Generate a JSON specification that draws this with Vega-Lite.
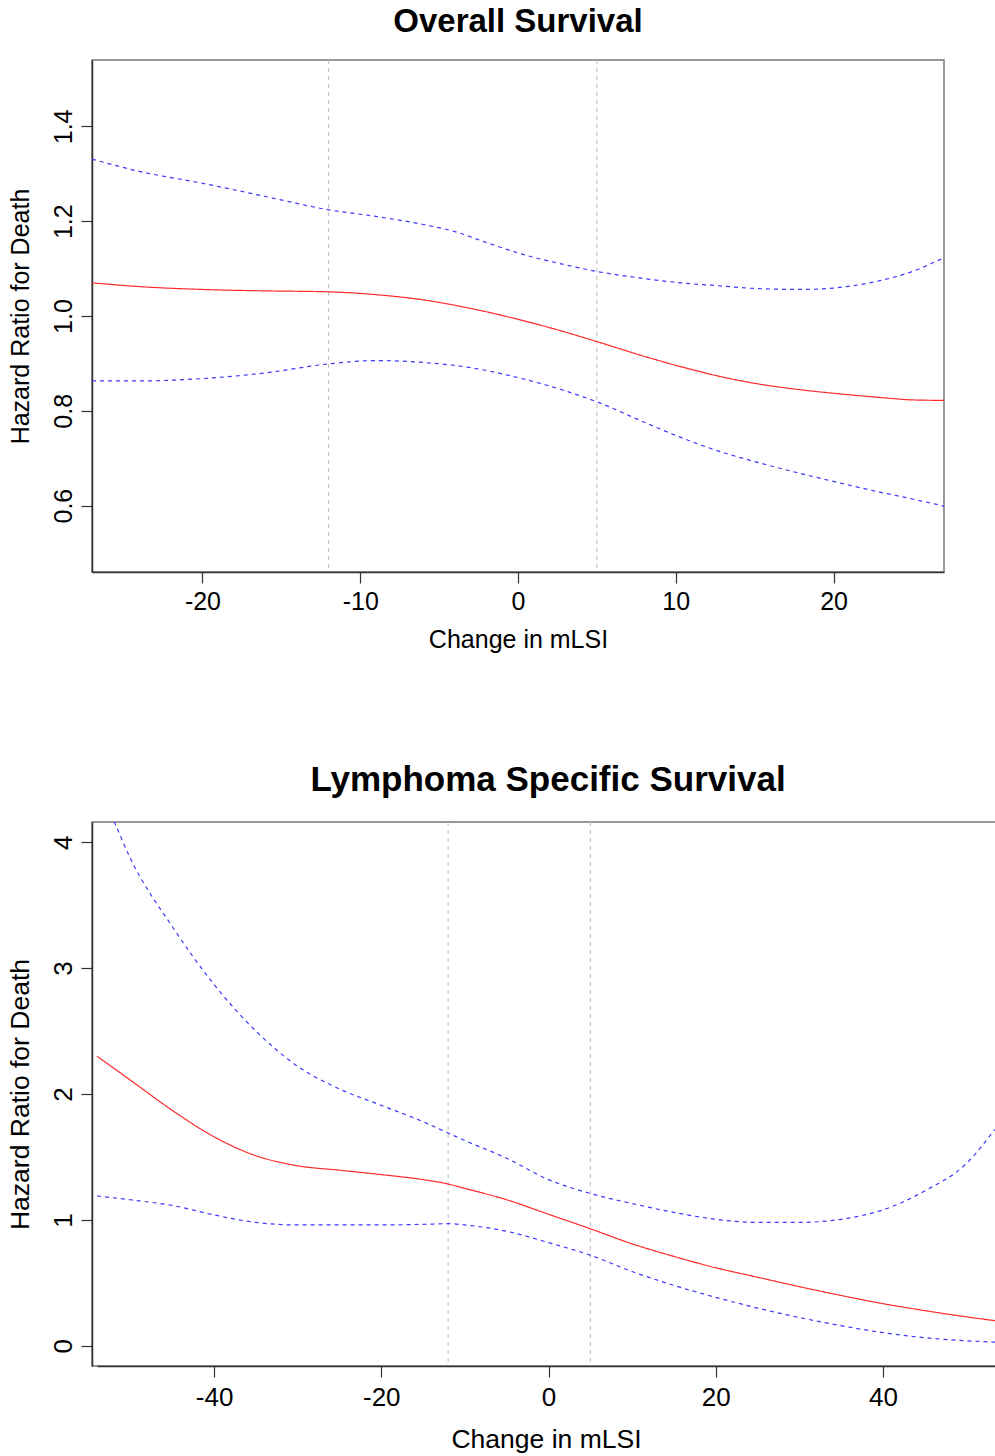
{
  "$schema": "https://vega.github.io/schema/vega-lite/v6.json",
  "background": "white",
  "padding": {"left": 6, "top": 4, "right": 0, "bottom": 0},
  "config": {
    "font": "Liberation Sans",
    "view": {"stroke": "#777777", "strokeWidth": 1.5},
    "axis": {
      "domainColor": "#333333", "domainWidth": 1.5, "tickColor": "#333333", "tickWidth": 1.2, "tickSize": 11,
      "labelColor": "black", "titleColor": "black", "grid": false,
      "labelFont": "Liberation Sans", "titleFont": "Liberation Sans", "titleFontWeight": "normal",
      "labelFlush": false, "labelOverlap": false
    }
  },
  "datasets": {
    "os": [
      {"x": -27, "s": "hr", "v": 1.070}, {"x": -24, "s": "hr", "v": 1.062}, {"x": -20, "s": "hr", "v": 1.056}, {"x": -16, "s": "hr", "v": 1.053},
      {"x": -12, "s": "hr", "v": 1.051}, {"x": -9, "s": "hr", "v": 1.045}, {"x": -6, "s": "hr", "v": 1.034}, {"x": -3, "s": "hr", "v": 1.016},
      {"x": 0, "s": "hr", "v": 0.993}, {"x": 3, "s": "hr", "v": 0.966}, {"x": 5, "s": "hr", "v": 0.946}, {"x": 8, "s": "hr", "v": 0.915},
      {"x": 10, "s": "hr", "v": 0.896}, {"x": 13, "s": "hr", "v": 0.871}, {"x": 15, "s": "hr", "v": 0.858}, {"x": 18, "s": "hr", "v": 0.844},
      {"x": 20, "s": "hr", "v": 0.837}, {"x": 23, "s": "hr", "v": 0.828}, {"x": 25, "s": "hr", "v": 0.823}, {"x": 27, "s": "hr", "v": 0.822},
      {"x": -27, "s": "up", "v": 1.331}, {"x": -24, "s": "up", "v": 1.305}, {"x": -20, "s": "up", "v": 1.280}, {"x": -16, "s": "up", "v": 1.252},
      {"x": -12, "s": "up", "v": 1.224}, {"x": -9, "s": "up", "v": 1.210}, {"x": -6, "s": "up", "v": 1.193}, {"x": -4, "s": "up", "v": 1.178},
      {"x": -2, "s": "up", "v": 1.155}, {"x": 0, "s": "up", "v": 1.133}, {"x": 3, "s": "up", "v": 1.108}, {"x": 5, "s": "up", "v": 1.094},
      {"x": 8, "s": "up", "v": 1.079}, {"x": 10, "s": "up", "v": 1.071}, {"x": 13, "s": "up", "v": 1.063}, {"x": 15, "s": "up", "v": 1.058},
      {"x": 18, "s": "up", "v": 1.056}, {"x": 20, "s": "up", "v": 1.059}, {"x": 23, "s": "up", "v": 1.075}, {"x": 25, "s": "up", "v": 1.094},
      {"x": 27, "s": "up", "v": 1.123},
      {"x": -27, "s": "lo", "v": 0.863}, {"x": -24, "s": "lo", "v": 0.863}, {"x": -20, "s": "lo", "v": 0.868}, {"x": -16, "s": "lo", "v": 0.880},
      {"x": -12, "s": "lo", "v": 0.899}, {"x": -9, "s": "lo", "v": 0.906}, {"x": -6, "s": "lo", "v": 0.902}, {"x": -3, "s": "lo", "v": 0.891},
      {"x": 0, "s": "lo", "v": 0.870}, {"x": 3, "s": "lo", "v": 0.842}, {"x": 5, "s": "lo", "v": 0.819}, {"x": 8, "s": "lo", "v": 0.776},
      {"x": 10, "s": "lo", "v": 0.748}, {"x": 13, "s": "lo", "v": 0.712}, {"x": 15, "s": "lo", "v": 0.693}, {"x": 18, "s": "lo", "v": 0.667},
      {"x": 20, "s": "lo", "v": 0.651}, {"x": 23, "s": "lo", "v": 0.628}, {"x": 25, "s": "lo", "v": 0.614}, {"x": 27, "s": "lo", "v": 0.599}
    ],
    "lss": [
      {"x": -54, "s": "hr", "v": 2.30}, {"x": -50, "s": "hr", "v": 2.11}, {"x": -45, "s": "hr", "v": 1.87}, {"x": -40, "s": "hr", "v": 1.66},
      {"x": -35, "s": "hr", "v": 1.51}, {"x": -30, "s": "hr", "v": 1.43}, {"x": -25, "s": "hr", "v": 1.395}, {"x": -20, "s": "hr", "v": 1.36},
      {"x": -15, "s": "hr", "v": 1.32}, {"x": -12, "s": "hr", "v": 1.285}, {"x": -10, "s": "hr", "v": 1.25}, {"x": -5, "s": "hr", "v": 1.16},
      {"x": 0, "s": "hr", "v": 1.045}, {"x": 5, "s": "hr", "v": 0.93}, {"x": 10, "s": "hr", "v": 0.81}, {"x": 15, "s": "hr", "v": 0.71},
      {"x": 20, "s": "hr", "v": 0.62}, {"x": 25, "s": "hr", "v": 0.545}, {"x": 30, "s": "hr", "v": 0.47}, {"x": 35, "s": "hr", "v": 0.40},
      {"x": 40, "s": "hr", "v": 0.335}, {"x": 45, "s": "hr", "v": 0.28}, {"x": 50, "s": "hr", "v": 0.23}, {"x": 53.4, "s": "hr", "v": 0.20},
      {"x": -54, "s": "up", "v": 4.45}, {"x": -52, "s": "up", "v": 4.17}, {"x": -50, "s": "up", "v": 3.87}, {"x": -45, "s": "up", "v": 3.33},
      {"x": -40, "s": "up", "v": 2.87}, {"x": -35, "s": "up", "v": 2.50}, {"x": -30, "s": "up", "v": 2.22}, {"x": -25, "s": "up", "v": 2.04},
      {"x": -20, "s": "up", "v": 1.91}, {"x": -15, "s": "up", "v": 1.78}, {"x": -12, "s": "up", "v": 1.69}, {"x": -10, "s": "up", "v": 1.63},
      {"x": -5, "s": "up", "v": 1.49}, {"x": 0, "s": "up", "v": 1.32}, {"x": 5, "s": "up", "v": 1.21}, {"x": 10, "s": "up", "v": 1.13},
      {"x": 15, "s": "up", "v": 1.06}, {"x": 20, "s": "up", "v": 1.005}, {"x": 25, "s": "up", "v": 0.98}, {"x": 30, "s": "up", "v": 0.98},
      {"x": 35, "s": "up", "v": 1.005}, {"x": 40, "s": "up", "v": 1.08}, {"x": 45, "s": "up", "v": 1.23}, {"x": 50, "s": "up", "v": 1.45},
      {"x": 53.4, "s": "up", "v": 1.72},
      {"x": -54, "s": "lo", "v": 1.19}, {"x": -50, "s": "lo", "v": 1.16}, {"x": -45, "s": "lo", "v": 1.115}, {"x": -40, "s": "lo", "v": 1.04},
      {"x": -35, "s": "lo", "v": 0.98}, {"x": -30, "s": "lo", "v": 0.96}, {"x": -25, "s": "lo", "v": 0.96}, {"x": -20, "s": "lo", "v": 0.96},
      {"x": -15, "s": "lo", "v": 0.965}, {"x": -12, "s": "lo", "v": 0.97}, {"x": -10, "s": "lo", "v": 0.96}, {"x": -5, "s": "lo", "v": 0.91},
      {"x": 0, "s": "lo", "v": 0.82}, {"x": 5, "s": "lo", "v": 0.72}, {"x": 10, "s": "lo", "v": 0.59}, {"x": 15, "s": "lo", "v": 0.48},
      {"x": 20, "s": "lo", "v": 0.385}, {"x": 25, "s": "lo", "v": 0.30}, {"x": 30, "s": "lo", "v": 0.225}, {"x": 35, "s": "lo", "v": 0.16},
      {"x": 40, "s": "lo", "v": 0.105}, {"x": 45, "s": "lo", "v": 0.065}, {"x": 50, "s": "lo", "v": 0.04}, {"x": 53.4, "s": "lo", "v": 0.03}
    ],
    "cuts": [{"x": -12}, {"x": 5}]
  },
  "concat": [
    {
      "width": 852, "height": 512,
      "title": {"text": "Overall Survival", "fontSize": 33, "fontWeight": "bold", "font": "Liberation Sans", "anchor": "middle", "baseline": "alphabetic", "offset": -5, "color": "black"},
      "layer": [
        {
          "data": {"name": "cuts"},
          "mark": {"type": "rule", "color": "#bebebe", "strokeDash": [4, 4], "strokeWidth": 1},
          "encoding": {"x": {"field": "x", "type": "quantitative", "scale": {"domain": [-27, 27], "nice": false, "zero": false}}}
        },
        {
          "data": {"name": "os"},
          "mark": {"type": "line", "interpolate": "monotone", "strokeWidth": 1.2, "clip": true},
          "encoding": {
            "x": {"field": "x", "type": "quantitative", "scale": {"domain": [-27, 27], "nice": false, "zero": false},
              "axis": {"values": [-20, -10, 0, 10, 20], "labelExpr": "'' + datum.value", "labelFontSize": 25, "titleFontSize": 25, "labelPadding": 6, "titlePadding": 13, "title": "Change in mLSI"}},
            "y": {"field": "v", "type": "quantitative", "scale": {"domain": [0.46, 1.54], "nice": false, "zero": false},
              "axis": {"values": [0.6, 0.8, 1.0, 1.2, 1.4], "format": ".1f", "labelAngle": -90, "labelAlign": "center", "labelBaseline": "alphabetic", "labelFontSize": 25, "titleFontSize": 25, "labelPadding": 10, "titlePadding": 23, "titleBaseline": "alphabetic", "title": "Hazard Ratio for Death"}},
            "color": {"field": "s", "type": "nominal", "scale": {"domain": ["hr", "lo", "up"], "range": ["#ff2a2a", "#3a3aff", "#3a3aff"]}, "legend": null},
            "strokeDash": {"field": "s", "type": "nominal", "scale": {"domain": ["hr", "lo", "up"], "range": [[1, 0], [4, 4], [4, 4]]}, "legend": null}
          }
        }
      ]
    },
    {
      "width": 906, "height": 544,
      "title": {"text": "Lymphoma Specific Survival", "fontSize": 35, "fontWeight": "bold", "font": "Liberation Sans", "anchor": "middle", "baseline": "alphabetic", "offset": -4, "dx": 3, "color": "black"},
      "layer": [
        {
          "data": {"name": "cuts"},
          "mark": {"type": "rule", "color": "#bebebe", "strokeDash": [4, 4], "strokeWidth": 1},
          "encoding": {"x": {"field": "x", "type": "quantitative", "scale": {"domain": [-54, 53.4], "range": [5, 903], "nice": false, "zero": false}}}
        },
        {
          "data": {"name": "lss"},
          "mark": {"type": "line", "interpolate": "monotone", "strokeWidth": 1.2, "clip": true},
          "encoding": {
            "x": {"field": "x", "type": "quantitative", "scale": {"domain": [-54, 53.4], "range": [5, 903], "nice": false, "zero": false},
              "axis": {"values": [-40, -20, 0, 20, 40], "labelExpr": "'' + datum.value", "labelFontSize": 26, "titleFontSize": 26.5, "labelPadding": 7, "titlePadding": 16, "title": "Change in mLSI"}},
            "y": {"field": "v", "type": "quantitative", "scale": {"domain": [-0.16, 4.16], "nice": false, "zero": false},
              "axis": {"values": [0, 1, 2, 3, 4], "labelAngle": -90, "labelAlign": "center", "labelBaseline": "alphabetic", "labelFontSize": 26, "titleFontSize": 26.5, "labelPadding": 10, "titlePadding": 22, "titleBaseline": "alphabetic", "title": "Hazard Ratio for Death"}},
            "color": {"field": "s", "type": "nominal", "scale": {"domain": ["hr", "lo", "up"], "range": ["#ff2a2a", "#3a3aff", "#3a3aff"]}, "legend": null},
            "strokeDash": {"field": "s", "type": "nominal", "scale": {"domain": ["hr", "lo", "up"], "range": [[1, 0], [4, 4], [4, 4]]}, "legend": null}
          }
        }
      ]
    }
  ],
  "columns": 1,
  "align": "none",
  "bounds": "full",
  "spacing": 108
}
